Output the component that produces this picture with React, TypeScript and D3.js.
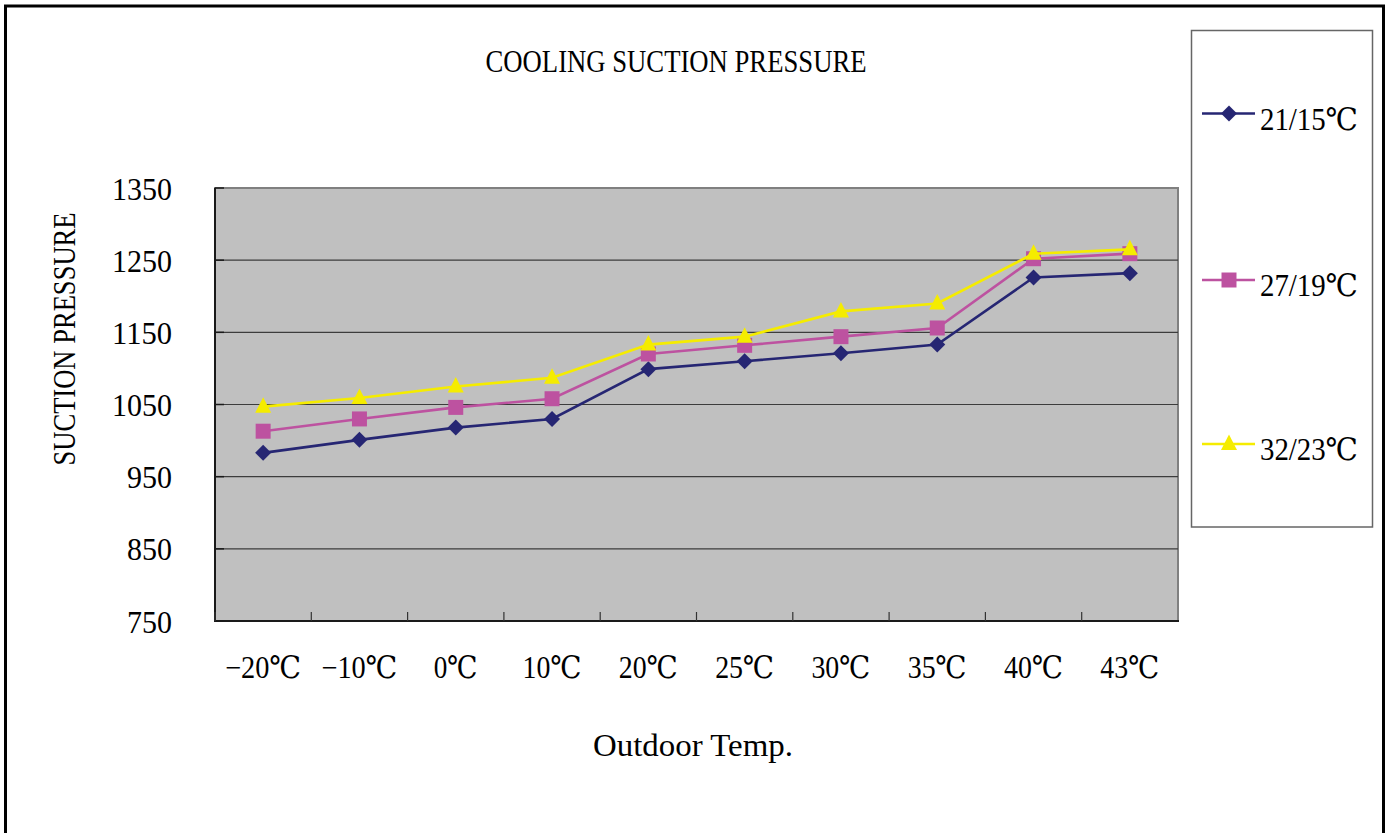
import { useEffect, useRef } from 'react';
import * as d3 from 'd3';

const categories = ['−20℃', '−10℃', '0℃', '10℃', '20℃', '25℃', '30℃', '35℃', '40℃', '43℃'];
const yTicks = [750, 850, 950, 1050, 1150, 1250, 1350];

const seriesNames = ['21/15℃', '27/19℃', '32/23℃'];
const series2115 = [983, 1001, 1018, 1030, 1099, 1110, 1121, 1133, 1226, 1232];
const series2719 = [1013, 1030, 1046, 1058, 1120, 1132, 1144, 1156, 1252, 1259];
const series3223 = [1047, 1059, 1075, 1087, 1133, 1144, 1179, 1190, 1259, 1265];

const colors = ['#262673', '#bd52a0', '#f5ec00'];
const shapes = ['diamond', 'square', 'triangle'];

const FONT = "'Liberation Serif', 'DejaVu Serif', 'Noto Sans CJK SC', serif";

// 글자 폭 (원본의 반각/전각 폭에 맞춤)
const textWidth = (s: string) =>
  Array.from(s).reduce((w, c) => {
    if (c === '℃') return w + 29;
    if (c === '−') return w + 17;
    if (c === '/') return w + 9;
    return w + 15;
  }, 0);

const markerPath = (shape: string, x: number, y: number) => {
  const p = d3.path();
  if (shape === 'diamond') {
    p.moveTo(x, y - 8);
    p.lineTo(x + 8, y);
    p.lineTo(x, y + 8);
    p.lineTo(x - 8, y);
  } else if (shape === 'square') {
    p.rect(x - 7.5, y - 7.5, 15, 15);
  } else {
    p.moveTo(x, y - 9.5);
    p.lineTo(x + 8, y + 6);
    p.lineTo(x - 8, y + 6);
  }
  p.closePath();
  return p.toString();
};

const App = () => {
  const svgRef = useRef<SVGSVGElement>(null);

  useEffect(() => {
    if (!svgRef.current) return;
    const svg = d3.select(svgRef.current);
    svg.selectAll('*').remove();

    const left = 215;
    const right = 1178;
    const top = 188;
    const bottom = 621;

    const x = d3.scaleBand<string>().domain(categories).range([left, right]);
    const y = d3.scaleLinear().domain([750, 1350]).range([bottom, top]);

    // 바깥 테두리
    svg.append('rect')
      .attr('x', 5.5).attr('y', 6)
      .attr('width', 1378).attr('height', 900)
      .attr('fill', 'white')
      .attr('stroke', 'black')
      .attr('stroke-width', 3);

    // 제목
    svg.append('text')
      .attr('x', 676).attr('y', 72)
      .attr('text-anchor', 'middle')
      .attr('font-family', FONT)
      .attr('font-size', 31)
      .attr('textLength', 381)
      .attr('lengthAdjust', 'spacingAndGlyphs')
      .text('COOLING SUCTION PRESSURE');

    // 플롯 영역
    svg.append('rect')
      .attr('x', left).attr('y', top)
      .attr('width', right - left).attr('height', bottom - top)
      .attr('fill', '#c0c0c0')
      .attr('stroke', '#808080')
      .attr('stroke-width', 2);

    // 격자선
    yTicks.slice(1, -1).forEach(t => {
      svg.append('line')
        .attr('x1', left).attr('x2', right)
        .attr('y1', y(t)).attr('y2', y(t))
        .attr('stroke', '#3c3c3c')
        .attr('stroke-width', 1.2);
    });

    // 축선
    svg.append('line')
      .attr('x1', left).attr('x2', left)
      .attr('y1', top).attr('y2', bottom + 1)
      .attr('stroke', '#1a1a1a').attr('stroke-width', 2);
    svg.append('line')
      .attr('x1', left - 1).attr('x2', right + 1)
      .attr('y1', bottom).attr('y2', bottom)
      .attr('stroke', '#1a1a1a').attr('stroke-width', 2);

    // y축 눈금 + 라벨
    yTicks.forEach(t => {
      svg.append('line')
        .attr('x1', left).attr('x2', left + 9)
        .attr('y1', y(t)).attr('y2', y(t))
        .attr('stroke', '#1a1a1a').attr('stroke-width', 1.5);
      svg.append('text')
        .attr('x', 172).attr('y', y(t) + 11.5)
        .attr('text-anchor', 'end')
        .attr('font-family', FONT)
        .attr('font-size', 31)
        .attr('textLength', textWidth(String(t)))
        .attr('lengthAdjust', 'spacingAndGlyphs')
        .text(String(t));
    });

    // x축 눈금 (카테고리 경계)
    categories.forEach(c => {
      const bx = x(c)!;
      svg.append('line')
        .attr('x1', bx).attr('x2', bx)
        .attr('y1', bottom - 9).attr('y2', bottom)
        .attr('stroke', '#333').attr('stroke-width', 1.2);
      svg.append('text')
        .attr('x', bx + x.bandwidth() / 2).attr('y', 678)
        .attr('text-anchor', 'middle')
        .attr('font-family', FONT)
        .attr('font-size', 31)
        .attr('textLength', textWidth(c))
        .attr('lengthAdjust', 'spacingAndGlyphs')
        .text(c);
    });

    // 축 제목
    svg.append('text')
      .attr('transform', 'translate(75,339) rotate(-90)')
      .attr('text-anchor', 'middle')
      .attr('font-family', FONT)
      .attr('font-size', 31)
      .attr('textLength', 253)
      .attr('lengthAdjust', 'spacingAndGlyphs')
      .text('SUCTION PRESSURE');
    svg.append('text')
      .attr('x', 693).attr('y', 756)
      .attr('text-anchor', 'middle')
      .attr('font-family', FONT)
      .attr('font-size', 31)
      .attr('textLength', 200)
      .attr('lengthAdjust', 'spacingAndGlyphs')
      .text('Outdoor Temp.');

    // 시리즈
    const allSeries = [series2115, series2719, series3223];
    const line = d3.line<number>()
      .x((_, i) => x(categories[i])! + x.bandwidth() / 2)
      .y(d => y(d));

    allSeries.forEach((vals, si) => {
      svg.append('path')
        .attr('d', line(vals)!)
        .attr('fill', 'none')
        .attr('stroke', colors[si])
        .attr('stroke-width', 2.6);
      vals.forEach((v, i) => {
        svg.append('path')
          .attr('d', markerPath(shapes[si], x(categories[i])! + x.bandwidth() / 2, y(v)))
          .attr('fill', colors[si]);
      });
    });

    // 범례
    svg.append('rect')
      .attr('x', 1191.5).attr('y', 30.5)
      .attr('width', 181).attr('height', 496.5)
      .attr('fill', 'white')
      .attr('stroke', '#666')
      .attr('stroke-width', 1.5);
    const legendY = [113.5, 280, 444];
    seriesNames.forEach((name, si) => {
      const ly = legendY[si];
      svg.append('line')
        .attr('x1', 1202).attr('x2', 1255)
        .attr('y1', ly).attr('y2', ly)
        .attr('stroke', colors[si]).attr('stroke-width', 2.6);
      svg.append('path')
        .attr('d', markerPath(shapes[si], 1229, ly))
        .attr('fill', colors[si]);
      svg.append('text')
        .attr('x', 1260).attr('y', ly + 16)
        .attr('font-family', FONT)
        .attr('font-size', 31)
        .attr('textLength', textWidth(name))
        .attr('lengthAdjust', 'spacingAndGlyphs')
        .text(name);
    });
  }, []);

  return (
    <svg
      ref={svgRef}
      width={1391}
      height={833}
      style={{ position: 'absolute', left: 0, top: 0, display: 'block' }}
    />
  );
};

export default App;
